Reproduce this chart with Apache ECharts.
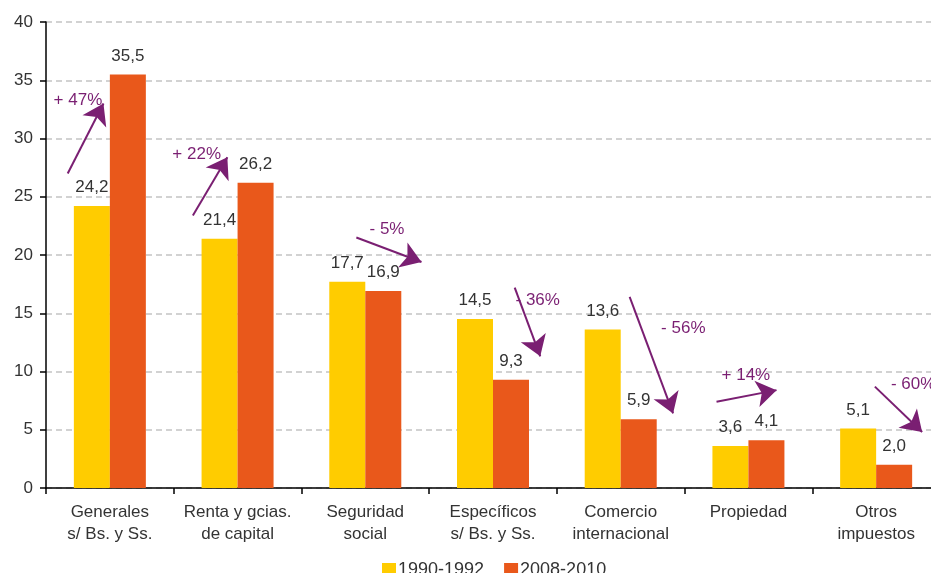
<!DOCTYPE html>
<html>
<head>
<meta charset="utf-8">
<script src="https://cdn.jsdelivr.net/npm/echarts@6/dist/echarts.min.js"></script>
<style>
  html, body { margin: 0; padding: 0; background: #fff; }
  #chart { width: 931px; height: 573px; }
</style>
</head>
<body>
<div id="chart"></div>
<script>
const categories = [
  'Generales\ns/ Bs. y Ss.',
  'Renta y gcias.\nde capital',
  'Seguridad\nsocial',
  'Específicos\ns/ Bs. y Ss.',
  'Comercio\ninternacional',
  'Propiedad',
  'Otros\nimpuestos'
]
const seriesNames = ['1990-1992', '2008-2010']
const values1990 = [24.2, 21.4, 17.7, 14.5, 13.6, 3.6, 5.1]
const values2008 = [35.5, 26.2, 16.9, 9.3, 5.9, 4.1, 2.0]

// variation arrows, in (category index, value) space
const arrowLabels = ['+ 47%', '+ 22%', '- 5%', '- 36%', '- 56%', '+ 14%', '- 60%']
const arrowFrom = [[-0.33, 27.0], [0.65, 23.4], [1.93, 21.5], [3.17, 17.2], [4.07, 16.4], [4.75, 7.4], [5.99, 8.7]]
const arrowTo = [[-0.05, 33.0], [0.92, 28.4], [2.44, 19.4], [3.37, 11.3], [4.41, 6.4], [5.22, 8.4], [6.36, 4.8]]
const arrowTextAt = [[-0.25, 33.3], [0.68, 28.6], [2.17, 22.2], [3.35, 16.1], [4.49, 13.7], [4.98, 9.7], [6.29, 8.9]]

const font = 'Liberation Sans, Arial, sans-serif'
const purple = '#7a1f72'
const fmt = p => String(p.value.toFixed(1)).replace('.', ',')

const chart = echarts.init(document.getElementById('chart'))

const option = {
  animation: false,
  backgroundColor: '#fff',
  textStyle: { fontFamily: font },
  color: ['#ffcc00', '#e9581b'],
  grid: { left: 46, width: 894, top: 22, bottom: 85, containLabel: false, outerBoundsMode: 'none' },
  legend: {
    data: seriesNames,
    top: 556,
    left: 377,
    icon: 'rect',
    itemWidth: 14,
    itemHeight: 14,
    itemGap: 20,
    textStyle: { fontSize: 18, color: '#333', fontFamily: font, padding: [0, 0, 0, -3] }
  },
  xAxis: [{
    type: 'category',
    data: categories,
    axisLine: { lineStyle: { color: '#000', width: 1.5 } },
    axisTick: { show: true, length: 6, lineStyle: { color: '#000', width: 1.5 } },
    axisLabel: { fontSize: 17, color: '#333', lineHeight: 22, margin: 13, interval: 0 }
  }, {
    type: 'value',
    min: -0.5,
    max: 6.5,
    show: false
  }],
  yAxis: {
    type: 'value',
    min: 0,
    max: 40,
    interval: 5,
    axisLine: { show: true, onZero: false, lineStyle: { color: '#000', width: 1.5 } },
    axisTick: { show: true, length: 6, lineStyle: { color: '#000', width: 1.5 } },
    axisLabel: { fontSize: 17, color: '#333', margin: 13 },
    splitLine: { lineStyle: { color: '#c4c4c4', type: [6, 4], width: 1.5 } }
  },
  series: [{
    name: seriesNames[0],
    type: 'bar',
    data: values1990,
    barWidth: 36,
    barGap: '0%',
    label: { show: true, position: 'top', distance: 10, fontSize: 17, color: '#333', formatter: fmt }
  }, {
    name: seriesNames[1],
    type: 'bar',
    data: values2008,
    barWidth: 36,
    barGap: '0%',
    label: { show: true, position: 'top', distance: 10, fontSize: 17, color: '#333', formatter: fmt }
  }, {
    type: 'lines',
    coordinateSystem: 'cartesian2d',
    xAxisIndex: 1,
    yAxisIndex: 0,
    symbol: ['none', 'arrow'],
    symbolSize: 20,
    lineStyle: { color: purple, width: 2, opacity: 1 },
    silent: true,
    z: 5,
    data: arrowFrom.map((p, i) => ({ coords: [p, arrowTo[i]] }))
  }, {
    type: 'scatter',
    xAxisIndex: 1,
    yAxisIndex: 0,
    symbolSize: 0,
    silent: true,
    z: 6,
    itemStyle: { opacity: 1 },
    data: arrowTextAt.map((p, i) => ({ value: p, name: arrowLabels[i] })),
    label: {
      show: true,
      position: 'inside',
      formatter: p => p.name,
      fontSize: 17,
      color: purple
    }
  }]
}

chart.setOption(option)
</script>
</body>
</html>
